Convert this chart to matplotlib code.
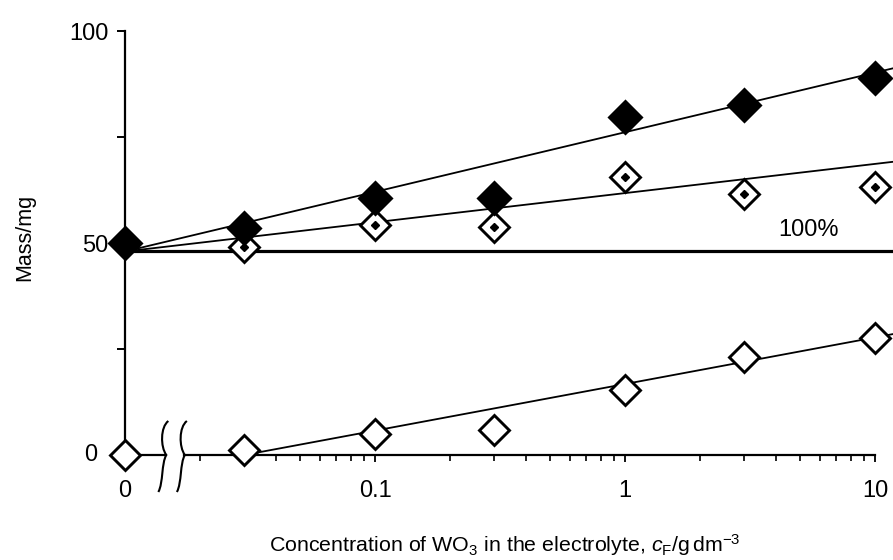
import numpy as np
import matplotlib
matplotlib.use('Agg')
from matplotlib import pyplot as plt
from matplotlib import transforms as mtransforms
from matplotlib.path import Path
from matplotlib.patches import PathPatch
from matplotlib.ticker import FixedLocator, LogLocator, NullFormatter

plt.rcParams['font.family'] = ['Liberation Sans', 'DejaVu Sans']
plt.rcParams['mathtext.fontset'] = 'custom'
plt.rcParams['mathtext.rm'] = 'Liberation Sans'
plt.rcParams['mathtext.it'] = 'Liberation Sans:italic'

# ----- data (mass in mg vs WO3 concentration in g/dm3) -----
conc = np.array([0, 0.03, 0.1, 0.3, 1, 3, 10])
mass_total = [50, 53.5, 60.6, 60.6, 79.7, 82.5, 88.9]      # filled diamonds
mass_dotted = [49, 54.2, 53.8, 65.6, 61.6, 63.2]            # dotted diamonds, from 0.03
mass_open = [0, 1.2, 5.0, 5.9, 15.3, 23.0, 27.6]            # open diamonds

# straight fits on the log axis, given by their end points
fit_upper_x = [0, 12]
fit_total_y = [48, 91.3]
fit_dotted_y = [48, 69.2]
line_100_y = [48, 48]
fit_open_x = [0.03, 12]
fit_open_y = [0, 28.6]

x_ticks = [0, 0.1, 1, 10]
x_ticklabels = ['0', '0.1', '1', '10']
y_ticks = [0, 25, 50, 75, 100]

# zero concentration sits on the y axis of the broken log scale
ZERO_POS = 0.01


def xpos(x):
    x = np.asarray(x, dtype=float)
    return np.where(x == 0, ZERO_POS, x)


fig = plt.figure(figsize=(8.93, 5.6), dpi=100)
ax = fig.add_axes([125 / 893, 105 / 560, 768 / 893, 424 / 560])
ax.set_xscale('log')
ax.set_xlim(ZERO_POS, 11.8)
ax.set_ylim(0, 100)

# fitted lines
ax.plot(xpos(fit_upper_x), fit_total_y, color='black', lw=1.3, zorder=3)
ax.plot(xpos(fit_upper_x), fit_dotted_y, color='black', lw=1.3, zorder=3)
ax.plot(xpos(fit_upper_x), line_100_y, color='black', lw=2.3, zorder=3)
ax.plot(xpos(fit_open_x), fit_open_y, color='black', lw=1.3, zorder=3)

mk = dict(linestyle='none', marker='D', markeredgecolor='black', markeredgewidth=2.1,
          clip_on=False)
ax.plot(xpos(conc), mass_open, markersize=15, markerfacecolor='white', zorder=4, **mk)
ax.plot(conc[1:], mass_dotted, markersize=15, markerfacecolor='white', zorder=5, **mk)
ax.plot(conc[1:], mass_dotted, linestyle='none', marker='D', markersize=3.6, color='black',
        zorder=6)
ax.plot(xpos(conc), mass_total, markersize=16, markerfacecolor='black', zorder=7, **mk)

ax.text(5.4, 53, '100%', fontsize=17, ha='center', va='center')

# axes styling
for side in ('top', 'right'):
    ax.spines[side].set_visible(False)
BREAK_LEFT, BREAK_RIGHT = 0.0145, 0.0172
ax.spines['left'].set_linewidth(1.6)
ax.spines['bottom'].set_linewidth(1.6)
ax.spines['left'].set_bounds(0, 100)
ax.spines['bottom'].set_bounds(BREAK_RIGHT, 10)
ax.plot([ZERO_POS, BREAK_LEFT], [0, 0], color='black', lw=1.6, clip_on=False, zorder=2.5)

ax.xaxis.set_major_locator(FixedLocator(list(xpos(x_ticks))))
ax.set_xticklabels(x_ticklabels)
ax.xaxis.set_minor_locator(LogLocator(base=10, subs=np.arange(2, 10)))
ax.xaxis.set_minor_formatter(NullFormatter())
ax.set_yticks(y_ticks)
ax.set_yticklabels(['', '', '50', '', '100'])
ax.tick_params(axis='x', which='major', direction='out', length=5, width=1.3, pad=13,
               labelsize=17)
ax.tick_params(axis='x', which='minor', direction='out', length=4, width=1.2)
ax.tick_params(axis='y', which='major', direction='out', length=6, width=1.4, pad=6,
               labelsize=17)
ax.annotate('0', xy=(0, 0), xycoords=('axes fraction', 'data'), xytext=(-20, 0),
            textcoords='offset points', ha='right', va='center', fontsize=17)

# axis break marks, drawn in inches around their anchor on the x axis
brace = np.array([(0.03, 0.34), (-0.05, 0.28), (-0.05, 0.08), (0.01, 0.0),
                  (-0.04, -0.08), (-0.02, -0.28), (-0.07, -0.37)])
codes = [Path.MOVETO, Path.CURVE4, Path.CURVE4, Path.CURVE4,
         Path.CURVE4, Path.CURVE4, Path.CURVE4]
for xb in (BREAK_LEFT, BREAK_RIGHT):
    trans = fig.dpi_scale_trans + mtransforms.ScaledTranslation(xb, 0, ax.transData)
    ax.add_patch(PathPatch(Path(brace, codes), transform=trans, facecolor='none',
                           edgecolor='black', lw=1.5, clip_on=False))

ax.text(-0.131, 0.512, 'Mass/mg', transform=ax.transAxes, rotation=90,
        ha='center', va='center', fontsize=15.5)
ax.text(0.495, -0.212, 'Concentration of WO$_3$ in the electrolyte, $c_\\mathrm{F}$/g$\\,$dm$^{-3}$',
        transform=ax.transAxes, ha='center', va='center', fontsize=15.4)

fig.savefig('out.png', dpi=100)
